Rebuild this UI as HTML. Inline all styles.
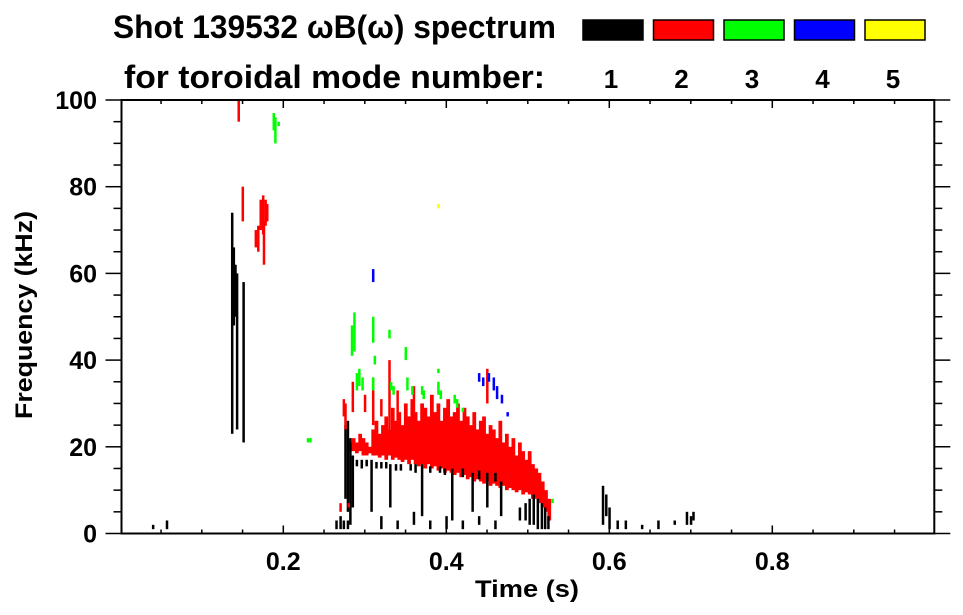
<!DOCTYPE html>
<html><head><meta charset="utf-8">
<style>
html,body{margin:0;padding:0;background:#fff;}
svg{display:block;font-family:"Liberation Sans",Arial,sans-serif;font-weight:bold;}
</style></head>
<body>
<svg id="chart" width="963" height="615" viewBox="0 0 963 615" xmlns="http://www.w3.org/2000/svg">
  <text x="113" y="38" font-size="32" textLength="443" lengthAdjust="spacingAndGlyphs">Shot 139532 ωB(ω) spectrum</text>
  <text x="124" y="88" font-size="32" textLength="421" lengthAdjust="spacingAndGlyphs">for toroidal mode number:</text>
  <g id="legend"></g>
  <g id="marks"></g>
  <g id="axes"></g>
  <text x="527" y="597" font-size="24" text-anchor="middle" textLength="104" lengthAdjust="spacingAndGlyphs">Time (s)</text>
  <text x="0" y="0" font-size="24" text-anchor="middle" transform="translate(32,315) rotate(-90)" textLength="208" lengthAdjust="spacingAndGlyphs">Frequency (kHz)</text>
</svg>
<script>
const modeLabels = ["1","2","3","4","5"];
const modeColors = ["#000000","#ff0000","#00ff00","#0000ff","#ffff00"];
const xTickValues = [0.2,0.4,0.6,0.8];
const xTickLabels = ["0.2","0.4","0.6","0.8"];
const yTickValues = [0,20,40,60,80,100];
const yTickLabels = ["0","20","40","60","80","100"];

// red (n=2) main band: start time, step, lower/upper frequency (kHz)
const redBandStart = 0.280;
const redBandStep = 0.004;
const redBandLo = [19,19,18.5,19,18,18,18.5,18,18,17.5, 18,17,18,17,17.5,17,16.5,17,16,17, 16,15.5,16,15,16,15,15.5,14.5,15,14, 14.5,14,13.5,14,13,13.5,12.5,13,12,12.5, 12,11.5,12,11,11.5,11,10.5,11,10,10.5, 10,9.5,10,9,9.5,9,8,8,7,6, 5,3];
const redBandHi = [21,22,21,23,22,21,20,24,26,23, 25,27,24,29,26,28,25,30,27,31, 28,26,30,29,27,32,28,30,26,29, 31,27,28,30,26,29,27,25,28,24, 26,27,23,25,24,22,26,21,23,20, 22,18,21,19,17,19,16,15,14,12, 10,8];

// streaks: [time (s), low kHz, high kHz]
const mode1Streaks = [[0.137,23,74],[0.139,48,66],[0.141,50,62],[0.143,24,60],[0.151,21,58],
 [0.276,8,25],[0.279,5,26],[0.282,2,22],[0.285,6,18],
 [0.265,1,3],[0.27,1,4],[0.274,1,3],[0.279,1,3],
 [0.29,15.5,17],[0.296,15,17],[0.302,15.5,17],[0.314,15,16.5],[0.32,15,16.5],[0.326,15,16.5],[0.338,14.5,16],[0.344,14.5,16],[0.356,14.5,16],[0.362,14,16],[0.38,14,15.5],[0.392,14,15.5],[0.398,13.5,15],[0.42,13,15],[0.44,12.5,14.5],[0.46,12,14],
 [0.308,5,17],[0.331,6,16],[0.37,4,16],[0.407,3,15],[0.432,5,14],[0.45,6,14],[0.467,4,12],
 [0.32,1,4],[0.34,1,3],[0.36,2,5],[0.38,1,3],[0.4,1,4],[0.42,1,3],[0.44,2,4],[0.46,1,3],
 [0.49,3,6],[0.497,3,7],[0.502,2,8],[0.507,2,9],[0.512,1,8],[0.517,1,7],[0.521,1,6],[0.525,1,4],
 [0.592,2,11],[0.596,4,9],[0.6,1,6],[0.61,1,3],[0.62,1,3],[0.64,1,2],[0.66,1,3],[0.68,2,3],[0.695,2,5],[0.7,2,4],[0.703,3,5],
 [0.04,1,2],[0.057,1,3]];
const mode2Streaks = [[0.145,95,100],[0.15,72,80],[0.166,66,70],[0.169,65,71],[0.172,70,77],[0.175,69,78],[0.178,71,77],[0.18,72,76],[0.176,62,72],
 [0.274,27,31],[0.276,24,30],[0.285,28,35],[0.3,28,32],[0.31,25,36],[0.32,27,31],[0.33,22,40],[0.34,26,33],[0.36,28,34],[0.45,30,38],[0.27,5,7],[0.28,6,7]];
const mode3Streaks = [[0.188,93,97],[0.19,90,96],[0.194,94,95],[0.23,21,22],[0.233,21,22],
 [0.284,41,48],[0.287,42,51],[0.29,33,37],[0.293,34,38],[0.297,33,36],[0.31,44,50],[0.31,33,36],[0.312,39,41],[0.33,45,47],[0.332,33,35],[0.335,32,34],[0.35,40,43],[0.352,33,36],[0.358,32,34],[0.37,32,34],[0.372,31,33],[0.39,32,35],[0.393,31,33],[0.41,30,32],[0.413,29,31],[0.42,28,29],[0.39,37,38],[0.53,7,8]];
const mode4Streaks = [[0.31,58,61],[0.44,35,37],[0.445,34,36],[0.452,35,37],[0.458,33,36],[0.462,31,34],[0.468,30,32],[0.475,27,28]];
const mode5Streaks = [[0.39,75,76]];

const NS = "http://www.w3.org/2000/svg";
const X0 = 120.3, XS = 815, Y0 = 533.5, YS = 4.335;
const xScale = t => X0 + XS * t;
const yScale = f => Y0 - YS * f;
function mk(tag, attrs, parent){ const e=document.createElementNS(NS,tag); for(const k in attrs) e.setAttribute(k,attrs[k]); parent.appendChild(e); return e; }

// legend
const lg = document.getElementById('legend');
modeLabels.forEach((lab,i)=>{
  const bx = 583 + i*70.5;
  const r = mk('rect',{x:bx,y:20,width:60,height:20,fill:modeColors[i],stroke:'#000','stroke-width':1.5},lg);
  
  
  const t = mk('text',{x:bx+28,y:88,'font-size':26,'text-anchor':'middle'},lg);
  t.textContent = lab;
  
  
});

// marks
const mg = document.getElementById('marks');
redBandLo.forEach((lo,i)=>{
  const t = redBandStart + i*redBandStep;
  const x1 = xScale(t), x2 = xScale(t+redBandStep);
  const r = mk('rect',{x:x1,y:yScale(redBandHi[i]),width:x2-x1+0.5,height:yScale(lo)-yScale(redBandHi[i]),fill:'#ff0000'},mg);
  
  
});
const allStreaks = [mode1Streaks,mode2Streaks,mode3Streaks,mode4Streaks,mode5Streaks];
allStreaks.forEach((arr,m)=>{
  arr.forEach(s=>{
    const r = mk('rect',{x:xScale(s[0])-1,y:yScale(s[2]),width:2.5,height:Math.max(1.5,yScale(s[1])-yScale(s[2])),fill:modeColors[m]},mg);
    
    
  });
});

// axes
const ag = document.getElementById('axes');
const L = 121.5, R = 934.3, T = 100, B = 533.5;
const frame = mk('rect',{x:L,y:T,width:R-L,height:B-T,fill:'none',stroke:'#000','stroke-width':2},ag);


for(let t=0.05;t<1.0;t+=0.05){
  const x = xScale(t); const major = Math.abs(t*5-Math.round(t*5))<1e-6;
  const len = major?8:4;
  mk('line',{x1:x,y1:B,x2:x,y2:B-len,stroke:'#000','stroke-width':1.5},ag);
  mk('line',{x1:x,y1:T,x2:x,y2:T+len,stroke:'#000','stroke-width':1.5},ag);
}
for(let f=0;f<=100;f+=5){
  const y = yScale(f); const major = f%20===0;
  const len = major?16:8;
  mk('line',{x1:L,y1:y,x2:L-len,y2:y,stroke:'#000','stroke-width':1.5},ag);
  mk('line',{x1:R,y1:y,x2:R+len,y2:y,stroke:'#000','stroke-width':1.5},ag);
}
xTickValues.forEach((v,i)=>{
  const t = mk('text',{x:xScale(v),y:570,'font-size':25,'text-anchor':'middle'},ag);
  t.textContent = xTickLabels[i];
  
  
});
yTickValues.forEach((v,i)=>{
  const t = mk('text',{x:97,y:yScale(v)+9,'font-size':25,'text-anchor':'end'},ag);
  t.textContent = yTickLabels[i];
  
  
});
</script>
</body></html>
